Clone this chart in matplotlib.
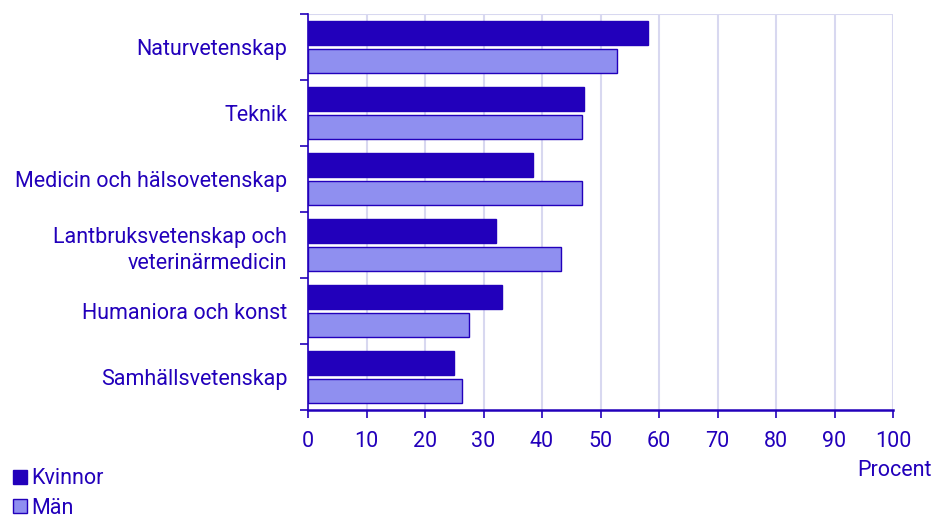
import matplotlib
matplotlib.use("Agg")
import matplotlib.pyplot as plt
import numpy as np
from matplotlib.patches import Patch

plt.rcParams['font.family'] = ['Roboto', 'DejaVu Sans']

amnen = [
    "Naturvetenskap",
    "Teknik",
    "Medicin och hälsovetenskap",
    "Lantbruksvetenskap och\nveterinärmedicin",
    "Humaniora och konst",
    "Samhällsvetenskap",
]
kvinnor = [58.1, 47.2, 38.5, 32.1, 33.2, 25.0]
man = [52.8, 46.8, 46.8, 43.2, 27.5, 26.3]

MORK = "#2200BB"
LJUS = "#8F8FF0"
GRID = "#D8D8F0"
FS = 15.5

fig = plt.figure(figsize=(9.42, 5.19), dpi=100)
ax = fig.add_axes([0.327, 0.210, 0.621, 0.763])

y = np.arange(len(amnen))
h = 0.36
ax.barh(y - 0.21, kvinnor, height=h, color=MORK, edgecolor=MORK, linewidth=1, zorder=3)
ax.barh(y + 0.21, man, height=h, color=LJUS, edgecolor=MORK, linewidth=1, zorder=3)

ax.set_ylim(len(amnen) - 0.5, -0.5)
ax.set_xlim(0, 100)
ax.set_xticks(range(0, 101, 10))

# kategorietiketter mitt i varje grupp, tickmarkeringar på gränserna
ax.set_yticks(np.arange(-0.5, len(amnen), 1))
ax.set_yticklabels([])
ax.set_yticks(y, minor=True)
ax.set_yticklabels(amnen, minor=True, fontsize=FS, color=MORK, ha='right',
                   linespacing=1.35)
ax.tick_params(axis='y', which='minor', length=0, pad=15)
ax.tick_params(axis='y', which='major', length=6, width=1.2, color=MORK, direction='out')
ax.tick_params(axis='x', length=6, width=1.2, color=MORK, labelsize=FS,
               labelcolor=MORK, pad=9)

ax.grid(axis='x', color=GRID, linewidth=1.5, zorder=0)
for s in ['top', 'right']:
    ax.spines[s].set_visible(False)
ax.axhline(-0.5, color=GRID, linewidth=1.5, zorder=0)
ax.spines['left'].set_color(MORK)
ax.spines['bottom'].set_color(MORK)
ax.spines['left'].set_linewidth(1.2)
ax.spines['bottom'].set_linewidth(1.8)

fig.text(0.989, 0.094, "Procent", ha='right', va='center', fontsize=FS, color=MORK)

handles = [Patch(facecolor=MORK, edgecolor=MORK, label="Kvinnor"),
           Patch(facecolor=LJUS, edgecolor=MORK, label="Män")]
leg = fig.legend(handles=handles, loc='lower left', bbox_to_anchor=(0.0, -0.024),
                 frameon=False, fontsize=FS, handlelength=0.65, handleheight=0.65,
                 handletextpad=0.2, labelspacing=0.38, borderaxespad=0.2)
for t in leg.get_texts():
    t.set_color(MORK)

fig.savefig("out.png", dpi=100)
